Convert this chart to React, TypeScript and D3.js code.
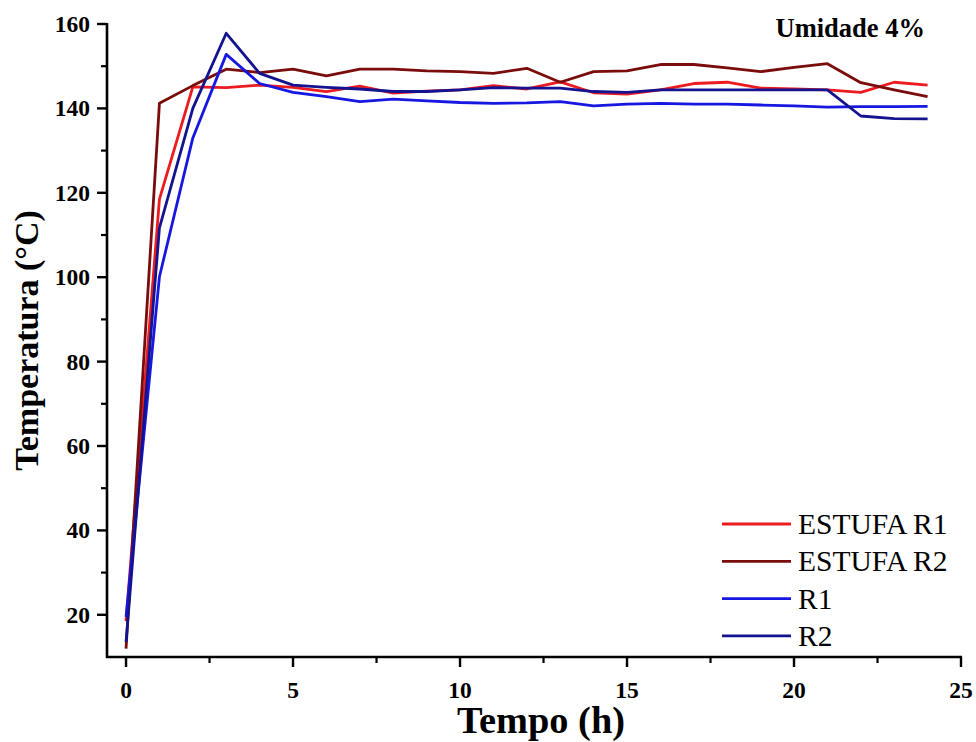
import React from "react";
import * as d3 from "d3";

const hours = [0, 1, 2, 3, 4, 5, 6, 7, 8, 9, 10, 11, 12, 13, 14, 15, 16, 17, 18, 19, 20, 21, 22, 23, 24];
const estufaR1 = [18.5, 118.5, 145.1, 144.9, 145.5, 145.0, 144.0, 145.3, 143.6, 144.1, 144.4, 145.4, 144.6, 146.3, 143.7, 143.4, 144.4, 145.9, 146.2, 144.8, 144.6, 144.4, 143.8, 146.2, 145.5];
const estufaR2 = [12, 141.2, 145.4, 149.3, 148.5, 149.3, 147.7, 149.3, 149.3, 148.9, 148.7, 148.3, 149.5, 146.2, 148.7, 148.9, 150.4, 150.4, 149.6, 148.7, 149.7, 150.6, 146.1, 144.4, 142.8];
const r1 = [19.5, 100.1, 133.0, 152.8, 145.9, 143.8, 142.8, 141.6, 142.2, 141.8, 141.4, 141.2, 141.3, 141.6, 140.6, 141.0, 141.2, 141.0, 141.0, 140.8, 140.6, 140.3, 140.4, 140.4, 140.5];
const r2 = [13.5, 111.7, 140.0, 157.8, 148.3, 145.5, 145.0, 144.6, 144.0, 144.0, 144.4, 144.9, 144.8, 144.8, 144.0, 143.8, 144.4, 144.4, 144.4, 144.4, 144.4, 144.4, 138.2, 137.6, 137.5];

const seriesNames = ["ESTUFA R1", "ESTUFA R2", "R1", "R2"];
const seriesColors = ["#ec1b1f", "#7a0c0c", "#1717e2", "#13138f"];
const seriesValues = [estufaR1, estufaR2, r1, r2];

const xMajorTicks = [0, 5, 10, 15, 20, 25];
const xMinorTicks = [2.5, 7.5, 12.5, 17.5, 22.5];
const yMajorTicks = [20, 40, 60, 80, 100, 120, 140, 160];
const yMinorTicks = [30, 50, 70, 90, 110, 130, 150];

const W = 976;
const H = 742;
const left = 107;
const right = 961;
const top = 24;
const bottom = 657;

export default function App() {
  const x = d3.scaleLinear().domain([-0.57, 25]).range([left, right]);
  const y = d3.scaleLinear().domain([10, 160]).range([bottom, top]);
  const line = d3
    .line<number>()
    .x((_, i) => x(hours[i]))
    .y((d) => y(d));

  const font = "'Liberation Serif', 'Times New Roman', serif";

  return (
    <svg
      width={W}
      height={H}
      style={{ position: "absolute", left: 0, top: 0, background: "#fff" }}
      fontFamily={font}
    >
      <rect width={W} height={H} fill="#fff" />
      {seriesValues.map((vals, k) => (
        <path
          key={seriesNames[k]}
          d={line(vals) || ""}
          fill="none"
          stroke={seriesColors[k]}
          strokeWidth={2.8}
          strokeLinejoin="round"
        />
      ))}
      <line x1={left} x2={left} y1={top - 1} y2={bottom + 1} stroke="#000" strokeWidth={2.6} />
      <line x1={left - 1} x2={right + 1} y1={bottom} y2={bottom} stroke="#000" strokeWidth={2.6} />
      {xMajorTicks.map((t) => (
        <g key={"xM" + t}>
          <line x1={x(t)} x2={x(t)} y1={bottom} y2={bottom + 10} stroke="#000" strokeWidth={2.4} />
          <text x={x(t)} y={bottom + 41} textAnchor="middle" fontSize={23.5} fontWeight="bold">
            {t}
          </text>
        </g>
      ))}
      {xMinorTicks.map((t) => (
        <line key={"xm" + t} x1={x(t)} x2={x(t)} y1={bottom} y2={bottom + 6} stroke="#000" strokeWidth={2.2} />
      ))}
      {yMajorTicks.map((t) => (
        <g key={"yM" + t}>
          <line x1={left - 10} x2={left} y1={y(t)} y2={y(t)} stroke="#000" strokeWidth={2.4} />
          <text x={left - 17} y={y(t) + 8} textAnchor="end" fontSize={23.5} fontWeight="bold">
            {t}
          </text>
        </g>
      ))}
      {yMinorTicks.map((t) => (
        <line key={"ym" + t} x1={left - 6} x2={left} y1={y(t)} y2={y(t)} stroke="#000" strokeWidth={2.2} />
      ))}
      <text
        x={541}
        y={733}
        textAnchor="middle"
        fontSize={37}
        fontWeight="bold"
        textLength={168}
        lengthAdjust="spacingAndGlyphs"
      >
        Tempo (h)
      </text>
      <text
        transform={`translate(38, ${(top + bottom) / 2}) rotate(-90)`}
        textAnchor="middle"
        fontSize={34}
        fontWeight="bold"
      >
        Temperatura (°C)
      </text>
      <text x={925} y={37} textAnchor="end" fontSize={26.5} fontWeight="bold">
        Umidade 4%
      </text>
      {seriesNames.map((name, k) => {
        const ly = 524 + k * 37.3;
        return (
          <g key={"lg" + name}>
            <line x1={722} x2={791} y1={ly} y2={ly} stroke={seriesColors[k]} strokeWidth={2.8} />
            <text x={798} y={ly + 10} fontSize={29.5}>
              {name}
            </text>
          </g>
        );
      })}
    </svg>
  );
}
